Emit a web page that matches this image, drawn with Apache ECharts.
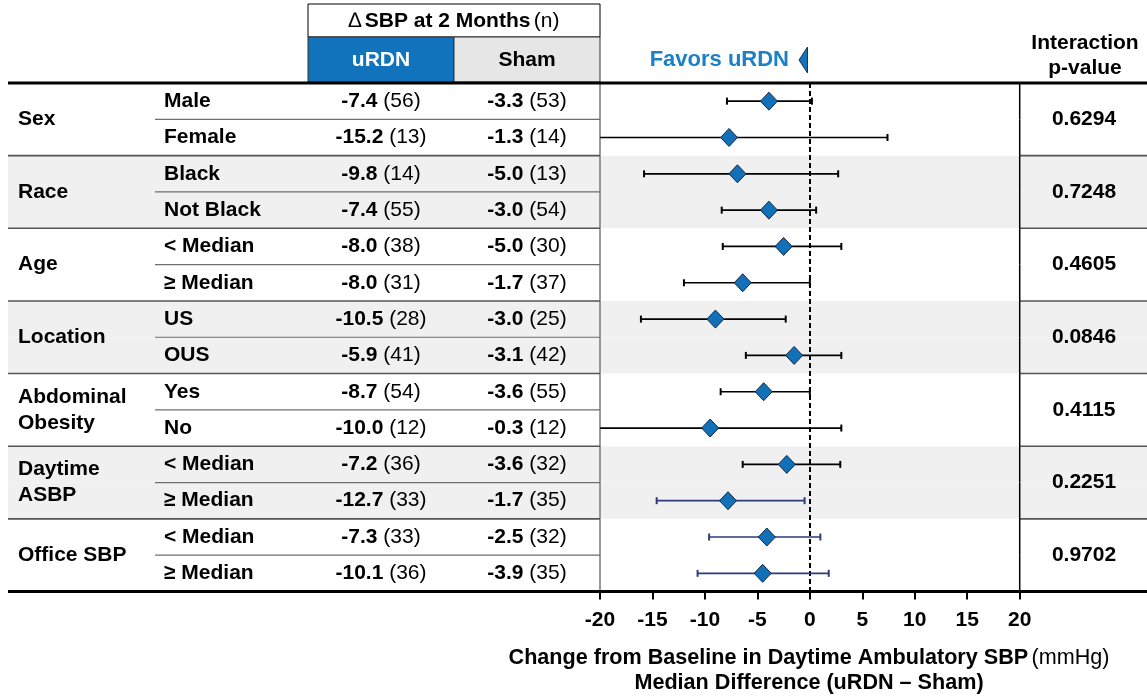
<!DOCTYPE html>
<html><head><meta charset="utf-8">
<script src="https://cdn.jsdelivr.net/npm/echarts@6/dist/echarts.min.js"></script>
<style>html,body{margin:0;padding:0;background:#fff}#c{width:1147px;height:696px}</style>
</head><body><div id="c"></div>
<script>
// ---- data ----
const groups = ['Sex', 'Race', 'Age', 'Location', 'Abdominal\nObesity', 'Daytime\nASBP', 'Office SBP'];
const subgroups = ['Male', 'Female', 'Black', 'Not Black', '< Median', '≥ Median', 'US', 'OUS', 'Yes', 'No', '< Median', '≥ Median', '< Median', '≥ Median'];
const urdnDelta = [-7.4, -15.2, -9.8, -7.4, -8.0, -8.0, -10.5, -5.9, -8.7, -10.0, -7.2, -12.7, -7.3, -10.1];
const urdnN = [56, 13, 14, 55, 38, 31, 28, 41, 54, 12, 36, 33, 33, 36];
const shamDelta = [-3.3, -1.3, -5.0, -3.0, -5.0, -1.7, -3.0, -3.1, -3.6, -0.3, -3.6, -1.7, -2.5, -3.9];
const shamN = [53, 14, 13, 54, 30, 37, 25, 42, 55, 12, 32, 35, 32, 35];
const medianDiff = [-3.9, -7.7, -6.9, -3.9, -2.5, -6.4, -9.0, -1.5, -4.4, -9.5, -2.2, -7.8, -4.1, -4.5];
const ciLow = [-7.9, -21.0, -15.8, -8.4, -8.3, -12.0, -16.1, -6.1, -8.5, -21.0, -6.4, -14.6, -9.6, -10.7];
const ciHigh = [0.2, 7.4, 2.7, 0.6, 3.0, 0.0, -2.3, 3.0, 0.0, 3.0, 2.9, -0.5, 1.0, 1.8];
const pValues = ['0.6294', '0.7248', '0.4605', '0.0846', '0.4115', '0.2251', '0.9702'];
const xTicks = [-20, -15, -10, -5, 0, 5, 10, 15, 20];

// ---- layout ----
const FONT = '"Liberation Sans", Arial, sans-serif';
const FS = 21;
const L = 8, R = 1147, TBL_R = 600, PLOT_R = 1019.7, SUB_X = 164, SEP_X = 155, COL1 = 381, COL2 = 527, PCOL = 1084;
const X_MIN = xTicks[0], X_MAX = xTicks[xTicks.length - 1];
const NROWS = subgroups.length;

const chart = echarts.init(document.getElementById('c'));

function rowBounds(api, i) {
  const t = api.coord([0, i])[1], b = api.coord([0, i + 1])[1];
  return [t, b, (t + b) / 2];
}
function txt(x, y, text, opts) {
  return { type: 'text', z2: 10, style: Object.assign({ x, y, text, fill: '#000', fontFamily: FONT, fontSize: FS, fontWeight: 'bold', align: 'left', verticalAlign: 'middle' }, opts || {}) };
}
function hline(x1, x2, y, color, w) {
  return { type: 'line', shape: { x1, y1: y, x2, y2: y }, style: { stroke: color, lineWidth: w } };
}
function rich(fs) {
  return {
    b: { fontFamily: FONT, fontSize: fs, fontWeight: 'bold', fill: '#000' },
    n: { fontFamily: FONT, fontSize: fs, fontWeight: 'normal', fill: '#000' },
    d: { fontFamily: FONT, fontSize: fs, fontWeight: 'normal', fill: '#000' }
  };
}
const richVal = rich(FS);

const rows = subgroups.map((s, i) => [0, i]);

const option = {
  animation: false,
  grid: { left: TBL_R, top: 83, right: R - PLOT_R, bottom: 104.5 },
  xAxis: {
    type: 'value', min: X_MIN, max: X_MAX, interval: 5,
    axisLine: { show: true, onZero: false, lineStyle: { color: '#000', width: 3 } },
    axisTick: { show: true, length: 8, lineStyle: { color: '#000', width: 2 } },
    axisLabel: { color: '#000', fontFamily: FONT, fontSize: FS, fontWeight: 'bold', margin: 18 },
    splitLine: { show: false }
  },
  yAxis: {
    type: 'value', min: 0, max: NROWS, inverse: true,
    axisLine: { show: true, onZero: false, lineStyle: { color: '#7a7a7a', width: 1.5 } },
    axisTick: { show: false }, axisLabel: { show: false }, splitLine: { show: false }
  },
  series: [
    { // group shading
      type: 'custom', z: 0, silent: true, clip: false, data: rows,
      renderItem: (params, api) => {
        const i = api.value(1);
        const g = Math.floor(i / 2);
        if (g % 2 !== 1) return null;
        const [t, b] = rowBounds(api, i);
        return { type: 'rect', shape: { x: L, y: t, width: R - L, height: b - t }, style: { fill: '#f0f0f0' } };
      }
    },
    { // table text and rules
      type: 'custom', z: 1, silent: true, clip: false, data: rows,
      renderItem: (params, api) => {
        const i = api.value(1);
        const g = Math.floor(i / 2);
        const [t, b, c] = rowBounds(api, i);
        const ch = [];
        ch.push(txt(SUB_X, c, subgroups[i]));
        ch.push(txt(COL1, c, '{b|' + urdnDelta[i].toFixed(1) + '} {n|(' + urdnN[i] + ')}', { align: 'center', rich: richVal }));
        ch.push(txt(COL2, c, '{b|' + shamDelta[i].toFixed(1) + '} {n|(' + shamN[i] + ')}', { align: 'center', rich: richVal }));
        if (i % 2 === 0) {
          ch.push(txt(18, b, groups[g], { lineHeight: 26 }));
          ch.push(txt(PCOL, b, pValues[g], { align: 'center' }));
          ch.push(hline(SEP_X, TBL_R, b, '#6e6e6e', 1.2));
        } else if (i < NROWS - 1) {
          ch.push(hline(L, TBL_R, b, '#555', 1.6));
          ch.push(hline(PLOT_R, R, b, '#555', 1.6));
        }
        // right border of the plot panel
        const xr = api.coord([X_MAX, 0])[0];
        ch.push({ type: 'line', shape: { x1: xr, y1: t, x2: xr, y2: b }, style: { stroke: '#000', lineWidth: 1.5 } });
        if (i === 0) ch.push(hline(L, R, t, '#000', 3));
        if (i === NROWS - 1) {
          ch.push(hline(L, TBL_R, b, '#000', 3));
          ch.push(hline(PLOT_R, R, b, '#000', 3));
        }
        return { type: 'group', children: ch };
      }
    },
    { // forest plot
      type: 'custom', z: 5, silent: true, clip: false,
      data: medianDiff.map((d, i) => [d, ciLow[i], ciHigh[i], i]),
      encode: { x: [0, 1, 2], y: 3 },
      renderItem: (params, api) => {
        const i = api.value(3);
        const d = api.value(0), lo = api.value(1), hi = api.value(2);
        const y = api.coord([0, i + 0.5])[1];
        const xLo = api.coord([Math.max(lo, X_MIN), 0])[0];
        const xHi = api.coord([Math.min(hi, X_MAX), 0])[0];
        const xc = api.coord([d, 0])[0];
        const col = i >= 11 ? '#2b3b7c' : '#000';
        const ch = [
          { type: 'line', shape: { x1: xLo, y1: y, x2: xHi, y2: y }, style: { stroke: col, lineWidth: 1.7 } }
        ];
        if (lo >= X_MIN) ch.push({ type: 'line', shape: { x1: xLo, y1: y - 3.5, x2: xLo, y2: y + 3.5 }, style: { stroke: col, lineWidth: 2 } });
        if (hi <= X_MAX) ch.push({ type: 'line', shape: { x1: xHi, y1: y - 3.5, x2: xHi, y2: y + 3.5 }, style: { stroke: col, lineWidth: 2 } });
        const hw = 8.5, hh = 9;
        ch.push({ type: 'polygon', z2: 5, shape: { points: [[xc, y - hh], [xc + hw, y], [xc, y + hh], [xc - hw, y]] },
          style: { fill: '#1170b8', stroke: '#12263f', lineWidth: 1 } });
        return { type: 'group', children: ch };
      },
      markLine: {
        silent: true, symbol: ['none', 'none'], label: { show: false },
        lineStyle: { color: '#000', type: [5, 3], width: 2, opacity: 1 },
        emphasis: { disabled: true },
        data: [{ xAxis: 0 }]
      }
    }
  ],
  graphic: [
    { type: 'rect', shape: { x: 308, y: 4, width: 292, height: 33 }, style: { fill: '#fff', stroke: '#000', lineWidth: 1 } },
    { type: 'rect', shape: { x: 308, y: 37, width: 146, height: 45 }, style: { fill: '#1173bb', stroke: '#333', lineWidth: 1 } },
    { type: 'rect', shape: { x: 454, y: 37, width: 146, height: 45 }, style: { fill: '#e6e6e6', stroke: '#333', lineWidth: 1 } },
    { type: 'text', style: { x: 454, y: 21, text: '{d|∆} {b|SBP at 2 Months} {n|(n)}', align: 'center', verticalAlign: 'middle', rich: richVal } },
    { type: 'text', style: { x: 381, y: 60, text: 'uRDN', fill: '#fff', fontFamily: FONT, fontSize: FS, fontWeight: 'bold', align: 'center', verticalAlign: 'middle' } },
    { type: 'text', style: { x: 527, y: 60, text: 'Sham', fill: '#000', fontFamily: FONT, fontSize: FS, fontWeight: 'bold', align: 'center', verticalAlign: 'middle' } },
    { type: 'text', style: { x: 789, y: 60, text: 'Favors uRDN', fill: '#1b80c6', fontFamily: FONT, fontSize: 22, fontWeight: 'bold', align: 'right', verticalAlign: 'middle' } },
    { type: 'polygon', shape: { points: [[799, 60], [807.5, 47], [807.5, 73]] }, style: { fill: '#1273bb', stroke: '#1a3350', lineWidth: 1 } },
    { type: 'text', style: { x: 1085, y: 43, text: 'Interaction', fill: '#000', fontFamily: FONT, fontSize: FS, fontWeight: 'bold', align: 'center', verticalAlign: 'middle' } },
    { type: 'text', style: { x: 1085, y: 68, text: 'p-value', fill: '#000', fontFamily: FONT, fontSize: FS, fontWeight: 'bold', align: 'center', verticalAlign: 'middle' } },
    { type: 'text', style: { x: 809, y: 658, text: '{b|Change from Baseline in Daytime Ambulatory SBP} {n|(mmHg)}', align: 'center', verticalAlign: 'middle', rich: rich(21.6) } },
    { type: 'text', style: { x: 809, y: 683, text: 'Median Difference (uRDN – Sham)', fill: '#000', fontFamily: FONT, fontSize: 21.6, fontWeight: 'bold', align: 'center', verticalAlign: 'middle' } }
  ]
};
chart.setOption(option);
</script>
</body></html>
